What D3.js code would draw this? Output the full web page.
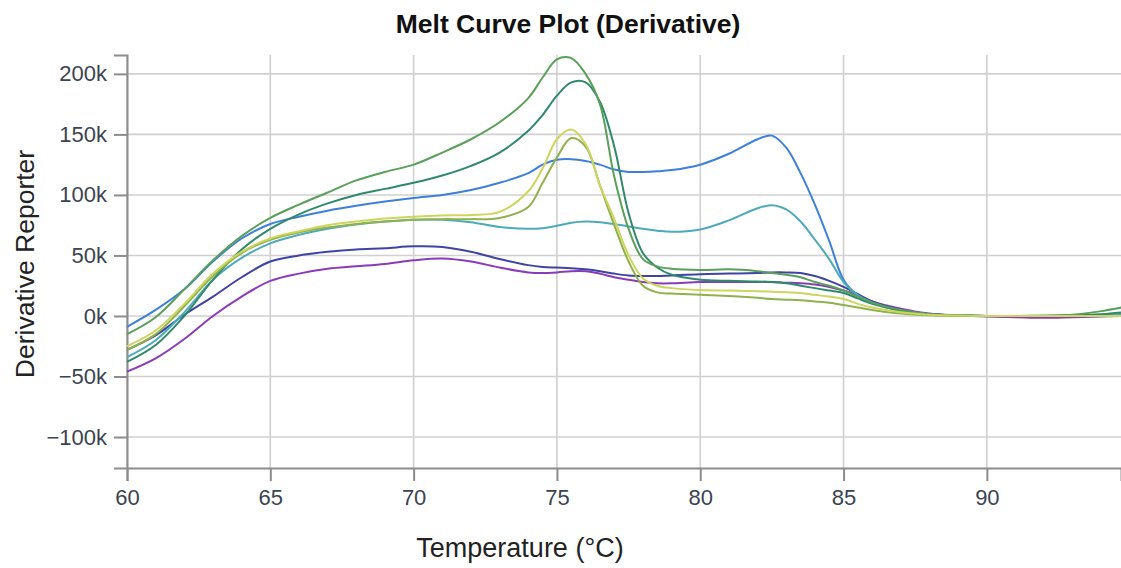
<!DOCTYPE html>
<html>
<head>
<meta charset="utf-8">
<script src="https://cdn.jsdelivr.net/npm/d3@7"></script>
<style>
  body { margin: 0; background: #fff; }
  svg { display: block; font-family: "Liberation Sans", Arial, sans-serif; }
</style>
</head>
<body>
<svg id="chart" width="1121" height="568"></svg>
<script>
// temperatures shared by every well (°C)
const temperatures = [60, 61, 62, 63, 64, 65, 66, 67, 68, 69, 70, 71, 72, 73, 74, 74.5, 75, 75.5, 76, 76.5,
  77, 77.5, 78, 78.5, 79, 80, 81, 82, 82.5, 83, 83.5, 84, 84.5, 85, 85.5, 86, 87, 88, 89, 90,
  91, 92, 93, 94, 94.7];

// derivative reporter, in thousands
const purpleWell = [-46, -35, -19, 0, 16, 29, 35, 39, 41, 43, 46, 47.5, 45, 40, 36, 35.5, 36, 37, 37, 35,
  32, 30, 28, 27, 27, 28, 28, 28, 28, 27.5, 27, 26, 24, 21, 17, 12, 6, 2, 0.5, -0.5,
  -1, -1.5, -1, -0.5, 0];
const indigoWell = [-28, -16, 1, 16, 32, 45, 50, 53, 55, 56, 57.5, 57, 53, 47, 42, 40.5, 40, 39.5, 38.5, 37,
  35, 33.5, 33, 33, 33.5, 34.5, 35, 35.5, 36, 36, 35.5, 33, 29, 24, 18, 12, 5, 1.5, 0.5, 0,
  0, 0, 0, 0.5, 1];
const blueWell = [-9, 5, 22, 45, 64, 76, 82, 87, 91, 94.5, 97.5, 100, 104, 110, 118, 125, 129, 129.5, 128, 125,
  121, 119, 119, 119.5, 120.5, 125, 134, 146, 149, 139, 118, 92, 62, 30, 17, 11, 4, 1, 0.5, 0,
  0, 0, 0.5, 1, 1.5];
const cyanWell = [-34, -20, 3, 30, 48, 60, 67, 72, 75.5, 78, 79.5, 79.5, 77.5, 73.5, 72, 72.5, 74.5, 77, 78, 77.5,
  76, 74, 72, 70.5, 69.5, 71.5, 79, 89, 91.5, 88, 78, 63, 47, 28, 17, 11, 4.5, 1.5, 0.5, 0,
  0, 0, 0, 0.5, 1];
const tealWell = [-38, -24, 0, 30, 55, 72, 84, 93, 100, 105, 110, 116, 124, 135, 153, 166, 182, 193, 193, 177,
  140, 85, 52, 40, 34, 30, 29, 28.5, 28, 27, 25, 23, 21, 19, 14.5, 10, 4.5, 1.5, 0.5, 0,
  0, 0, 0.5, 1.5, 3];
const greenWell = [-15, -1, 22, 46, 66, 81, 92, 102, 112, 119, 125, 135, 146, 160, 180, 197, 212, 213, 200, 175,
  115, 72, 47, 41, 39, 38, 38.5, 37, 35.5, 34, 32, 28, 25, 21, 16, 11, 5, 1.5, 0.5, 0,
  0, 0.3, 1, 4, 7];
const oliveWell = [-28, -15, 8, 33, 52, 63, 69, 73, 76, 78, 79.5, 80, 80, 81, 90, 110, 131, 147, 140, 108,
  75, 45, 25, 19.5, 18.5, 17.6, 16.5, 15, 14, 13.5, 13, 12, 11, 9, 7, 5, 2, 0.5, 0, 0,
  0, 0, 0, 0, 0];
const yellowWell = [-25, -12, 10, 35, 53, 64, 70, 75, 78, 80.5, 82, 83, 83.5, 86, 103, 122, 146, 154, 142, 108,
  80, 50, 31, 25, 23, 21.5, 21, 20.5, 20, 19.5, 19, 17.5, 16, 14, 10, 7, 3, 1, 0.3, 0,
  0, 0, 0, 0, 0];

const wellColors = ["#8a3cb8", "#3f44a2", "#3d80d9", "#4eaab9", "#2f8a6c", "#5a9f5a", "#8fb24c", "#cdd55c"];
const xTicks = [60, 65, 70, 75, 80, 85, 90];
const yTicks = [-100, -50, 0, 50, 100, 150, 200];

const wells = [purpleWell, indigoWell, blueWell, cyanWell, tealWell, greenWell, oliveWell, yellowWell];

const width = 1121, height = 568;
const margin = { top: 55, right: 0, bottom: 100, left: 127 };

const svg = d3.select("#chart");

const x = d3.scaleLinear().domain([60, 94.68]).range([margin.left, width - margin.right]);
const y = d3.scaleLinear().domain([-125.6, 215.6]).range([height - margin.bottom, margin.top]);

/* grid */
const grid = svg.append("g").attr("stroke", "#d0d0d0").attr("stroke-width", 1.6);
grid.selectAll(".vx").data(xTicks).join("line")
  .attr("x1", d => x(d)).attr("x2", d => x(d))
  .attr("y1", y.range()[1]).attr("y2", y.range()[0]);
grid.selectAll(".hy").data(yTicks).join("line")
  .attr("x1", x.range()[0]).attr("x2", x.range()[1])
  .attr("y1", d => y(d)).attr("y2", d => y(d));

/* axes */
const fmtK = d => (d < 0 ? "\u2212" : "") + Math.abs(d) + "k";

const xAxis = svg.append("g")
  .attr("transform", `translate(0,${y.range()[0]})`)
  .call(d3.axisBottom(x).tickValues(xTicks).tickSize(13).tickPadding(8));

const yAxis = svg.append("g")
  .attr("transform", `translate(${margin.left},0)`)
  .call(d3.axisLeft(y).tickValues(yTicks).tickFormat(fmtK).tickSize(13).tickPadding(7));

[xAxis, yAxis].forEach(ax => {
  ax.attr("font-family", null).attr("font-size", null);
  ax.selectAll("path, line").attr("stroke", "#8c8c8c").attr("stroke-width", 2);
  ax.selectAll("text").attr("fill", "#3c4352").style("font-size", "22px");
});

/* curves */
const line = d3.line()
  .x((d, i) => x(temperatures[i]))
  .y(d => y(d))
  .curve(d3.curveCatmullRom.alpha(0.5));

svg.append("g")
  .attr("fill", "none")
  .attr("stroke-width", 2)
  .selectAll("path")
  .data(wells)
  .join("path")
  .attr("stroke", (d, i) => wellColors[i])
  .attr("d", line);

/* titles */
svg.append("text")
  .attr("x", 568).attr("y", 33)
  .attr("text-anchor", "middle")
  .style("font-size", "26.5px").style("font-weight", "bold")
  .attr("fill", "#111")
  .text("Melt Curve Plot (Derivative)");

svg.append("text")
  .attr("transform", "translate(34,264) rotate(-90)")
  .attr("text-anchor", "middle")
  .style("font-size", "26.5px")
  .attr("fill", "#222")
  .text("Derivative Reporter");

svg.append("text")
  .attr("x", 520).attr("y", 557)
  .attr("text-anchor", "middle")
  .style("font-size", "27px")
  .attr("fill", "#222")
  .text("Temperature (°C)");
</script>
</body>
</html>
